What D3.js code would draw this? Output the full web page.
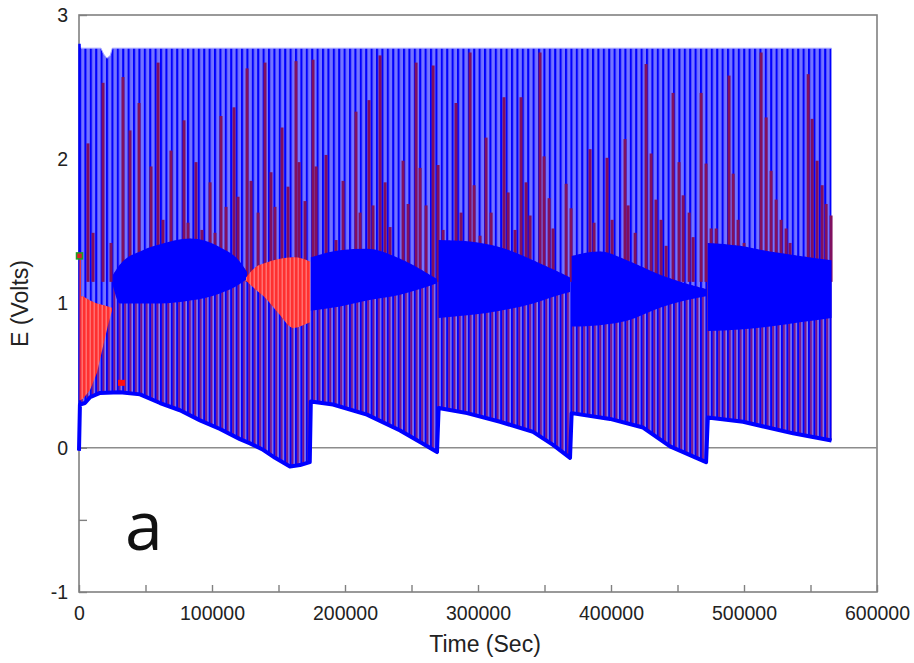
<!DOCTYPE html>
<html><head><meta charset="utf-8">
<script src="https://cdn.jsdelivr.net/npm/d3@7"></script>
<style>body{margin:0;background:#fff}svg{display:block}</style>
</head><body><svg id="c" width="914" height="663"></svg>
<script>
// ---------- DATA ----------
const xTickValues = [0,50000,100000,150000,200000,250000,300000,350000,400000,450000,500000,550000,600000];
const xLabelValues = [0,100000,200000,300000,400000,500000,600000];
const yTickValues = [-1,-0.5,0,1,2,3];
const yLabelValues = [-1,0,1,2,3];

// upper envelope of the blue trace [time s, volts]
const topEnvelope = [[0,2.80],[1500,2.77],[16500,2.77],[18500,2.73],[21000,2.70],[23500,2.72],[25000,2.77],[565800,2.77]];

// lower envelope of the blue trace (five discharge segments) [time s, volts]
const bottomEnvelope = [
  [0,-0.02],[700,0.30],[4500,0.31],[8300,0.35],[15800,0.38],[30800,0.385],[45900,0.37],[60900,0.31],
  [75900,0.26],[91000,0.19],[106000,0.13],[121000,0.06],[128600,0.03],[137600,-0.01],[147400,-0.07],
  [158600,-0.13],[166200,-0.12],[173500,-0.10],
  [174300,0.32],[191000,0.30],[216500,0.23],[241400,0.12],[256400,0.04],[269200,-0.03],
  [270400,0.275],[291800,0.24],[316600,0.18],[341400,0.11],[356400,0.02],[369200,-0.07],
  [370400,0.24],[399300,0.20],[424100,0.14],[444400,0.01],[471500,-0.10],
  [472800,0.21],[499300,0.18],[536900,0.10],[565800,0.05]
];

// dense mid bands [time s, upper V, lower V]
const redBand0 = [[0,1.30,0.33],[750,1.05,0.33],[3000,1.05,0.34],[8300,1.02,0.40],[13500,1.00,0.52],[18000,0.99,0.70],[21800,0.98,0.85],[24800,0.97,0.95]];
const blueBand1 = [[25600,1.20,1.12],[30800,1.27,1.00],[48000,1.37,1.00],[60900,1.41,1.00],[83500,1.45,1.02],[106000,1.39,1.07],[120000,1.30,1.13],[126300,1.22,1.17]];
const redBand1 = [[125600,1.18,1.16],[132400,1.25,1.10],[139900,1.28,1.04],[151100,1.31,0.92],[160900,1.32,0.83],[168400,1.31,0.85],[173800,1.29,0.87]];
const blueBand2 = [[174300,1.32,0.95],[196300,1.37,0.98],[216500,1.38,1.02],[241400,1.31,1.06],[256400,1.24,1.10],[269200,1.17,1.14]];
const blueBand3 = [[270400,1.44,0.90],[294000,1.43,0.92],[316600,1.39,0.95],[341400,1.30,1.00],[357900,1.23,1.05],[369200,1.18,1.08]];
const blueBand4 = [[370400,1.33,0.84],[391700,1.36,0.85],[412000,1.30,0.88],[436800,1.20,0.97],[455600,1.14,1.02],[471500,1.10,1.05]];
const blueBand5 = [[472800,1.42,0.81],[497000,1.40,0.82],[519600,1.36,0.84],[542100,1.33,0.87],[565800,1.30,0.90]];

// tops of the red-trace charge spikes
const redSpikeTimes = [4500,8300,15800,21800,30800,36100,42900,51900,57200,60900,66900,76700,79700,85700,90200,96300,100000,104500,108300,114300,117300,124100,127100,132400,137600,142100,145100,150400,154900,160900,163200,167700,173700,176000,183500,191000,196300,206000,209100,215800,218800,224100,227900,231600,241400,245200,251200,254200,258700,264000,267700,271500,281200,285000,291800,294800,299300,303800,307600,317300,320400,325600,330100,333900,336900,344400,347400,351200,354200,364000,367700,382000,385000,394800,398600,408300,410600,415900,424100,427900,431600,435400,439200,444400,448900,452000,456500,459500,465500,469200,473000,476800,486500,489600,493300,497800,510600,514400,518100,521900,525600,529400,532400,546000,549000,552700,556500,559500,563200];
const redSpikeTops = [2.11,1.49,2.53,1.42,2.57,2.20,2.39,1.95,2.67,1.58,2.06,2.27,1.56,1.98,1.51,1.84,1.49,2.30,1.67,2.36,1.74,2.63,1.85,1.63,2.67,1.91,1.67,2.22,1.81,2.68,1.98,1.71,2.69,1.95,2.03,1.44,1.85,2.33,1.63,2.41,1.68,2.72,1.84,1.53,1.99,1.69,2.67,1.94,1.68,2.65,1.96,1.51,2.39,1.63,2.74,1.82,1.47,2.15,1.63,2.43,1.77,1.51,2.43,1.84,1.61,2.74,2.02,1.73,1.52,1.83,1.66,2.07,1.56,2.01,1.58,2.14,1.68,1.49,2.66,2.04,1.72,1.58,1.40,2.46,1.98,1.75,1.63,1.46,2.46,1.97,1.52,1.52,2.58,1.90,1.58,1.42,2.74,2.29,1.92,1.72,1.58,1.52,1.42,2.59,2.28,1.99,1.82,1.69,1.61];

// single markers
const greenMarker = [0, 1.33];
const redMarker = [31600, 0.45];

// ---------- CHART ----------
const svg = d3.select("#c");
const x = d3.scaleLinear().domain([0,600000]).range([79,877]);
const y = d3.scaleLinear().domain([-1,3]).range([592,15]);

const BLUE = "#0000ff", LIGHT = "#7474ff", PURPLE = "#7a1080", SPIKE = "#80105f";

const defs = svg.append("defs");
const pu = defs.append("pattern").attr("id","upperPat").attr("patternUnits","userSpaceOnUse")
  .attr("x",79).attr("y",0).attr("width",5.4).attr("height",10);
pu.append("rect").attr("width",5.4).attr("height",10).attr("fill",LIGHT);
pu.append("rect").attr("width",2.1).attr("height",10).attr("fill",BLUE);
const pl = defs.append("pattern").attr("id","lowerPat").attr("patternUnits","userSpaceOnUse")
  .attr("x",79).attr("y",0).attr("width",5.4).attr("height",10);
pl.append("rect").attr("width",5.4).attr("height",10).attr("fill","#8080ff");
pl.append("rect").attr("width",2).attr("height",10).attr("fill",BLUE);
pl.append("rect").attr("x",2).attr("width",1.9).attr("height",10).attr("fill",PURPLE);
const pr = defs.append("pattern").attr("id","redPat").attr("patternUnits","userSpaceOnUse")
  .attr("x",79).attr("y",0).attr("width",4).attr("height",10);
pr.append("rect").attr("width",4).attr("height",10).attr("fill","#ff3030");
pr.append("rect").attr("x",2.5).attr("width",1.5).attr("height",10).attr("fill","#ff7070");

// frame
svg.append("rect").attr("x",x(0)).attr("y",y(3)).attr("width",x(600000)-x(0)).attr("height",y(-1)-y(3))
  .attr("fill","none").attr("stroke","#808080").attr("stroke-width",1.6);
// zero line
svg.append("line").attr("x1",x(0)).attr("x2",x(600000)).attr("y1",y(0)).attr("y2",y(0))
  .attr("stroke","#8c8c8c").attr("stroke-width",1.6);

// axes
const fmt = d => String(d);
const xAxis = d3.axisBottom(x).tickValues(xTickValues).tickSizeInner(-7).tickSizeOuter(0).tickPadding(14)
  .tickFormat(d => xLabelValues.includes(d) ? fmt(d) : "");
const gx = svg.append("g").attr("transform",`translate(0,${y(-1)})`).call(xAxis);
const yAxis = d3.axisLeft(y).tickValues(yTickValues).tickSizeInner(-8).tickSizeOuter(0).tickPadding(11)
  .tickFormat(d => yLabelValues.includes(d) ? fmt(d) : "");
const gy = svg.append("g").attr("transform",`translate(${x(0)},0)`).call(yAxis);
[gx,gy].forEach(g=>{
  g.select(".domain").remove();
  g.selectAll(".tick line").attr("stroke","#808080").attr("stroke-width",1.4);
  g.selectAll(".tick text").attr("fill","#222").style("font-family","'Liberation Sans', Arial, sans-serif").style("font-size","19.5px");
});

// data layers
const line = d3.line();
const P = d => [x(d[0]), y(d[1])];
const upperPoly = bottomEnvelope.map(P).concat(topEnvelope.slice().reverse().map(P));
svg.append("path").attr("d", line(upperPoly)+"Z").attr("fill","url(#upperPat)");
svg.append("path").attr("d", d3.line().x(d=>x(d[0])).y(d=>y(d[1]))(topEnvelope))
  .attr("fill","none").attr("stroke","#a8a8ff").attr("stroke-width",1);

const allBands = [redBand0, blueBand1, redBand1, blueBand2, blueBand3, blueBand4, blueBand5];
const bandUpper = allBands.flat().map(d => [x(d[0]), y(d[1])]);
const lowerPoly = bottomEnvelope.map(P).concat(bandUpper.slice().reverse());
svg.append("path").attr("d", line(lowerPoly)+"Z").attr("fill","url(#lowerPat)");

// red spikes
svg.append("g").selectAll("line").data(redSpikeTimes).join("line")
  .attr("x1", d=>x(d)+3).attr("x2", d=>x(d)+3)
  .attr("y1", (d,i)=>y(redSpikeTops[i])).attr("y2", y(1.15))
  .attr("stroke", SPIKE).attr("stroke-width", 3);

// mid bands
const area = d3.area().x(d=>x(d[0])).y0(d=>y(d[2])).y1(d=>y(d[1])).curve(d3.curveMonotoneX);
[blueBand1, blueBand2, blueBand3, blueBand4, blueBand5].forEach(b=>{
  svg.append("path").attr("d", area(b)).attr("fill", BLUE);
});
svg.append("path").attr("d", d3.area().x(d=>x(d[0])).y0(d=>y(d[2])).y1(d=>y(d[1]))(redBand0)).attr("fill", "url(#redPat)");
svg.append("path").attr("d", area(redBand1)).attr("fill", "url(#redPat)");

// lower envelope edge
svg.append("path").attr("d", d3.line().x(d=>x(d[0])).y(d=>y(d[1]))(bottomEnvelope))
  .attr("fill","none").attr("stroke",BLUE).attr("stroke-width",4).attr("stroke-linejoin","round");
svg.append("line").attr("x1",x(0)+0.5).attr("x2",x(0)+0.5).attr("y1",y(bottomEnvelope[0][1])).attr("y2",y(topEnvelope[0][1]))
  .attr("stroke",BLUE).attr("stroke-width",2.5);
svg.append("line").attr("x1",x(0)+1.2).attr("x2",x(0)+1.2).attr("y1",y(redBand0[0][2])).attr("y2",y(greenMarker[1]))
  .attr("stroke","#ff3030").attr("stroke-width",1.4);

// markers
svg.append("rect").attr("x",x(greenMarker[0])-2.5).attr("y",y(greenMarker[1])-3).attr("width",6).attr("height",6)
  .attr("fill","#e02020").attr("stroke","#20a020").attr("stroke-width",1.5);
svg.append("rect").attr("x",x(redMarker[0])-3).attr("y",y(redMarker[1])-3).attr("width",7).attr("height",6)
  .attr("fill","#ff1010");

// titles
svg.append("text").attr("x",485).attr("y",652).attr("text-anchor","middle")
  .style("font-family","'Liberation Sans', Arial, sans-serif").style("font-size","23px").attr("fill","#222").text("Time (Sec)");
svg.append("text").attr("transform",`translate(28,${(y(3)+y(-1))/2}) rotate(-90)`).attr("text-anchor","middle")
  .style("font-family","'Liberation Sans', Arial, sans-serif").style("font-size","23px").attr("fill","#222").text("E (Volts)");
svg.append("text").attr("x",125).attr("y",550)
  .style("font-family","'Open Sans', sans-serif").style("font-size","68px").attr("fill","#111").text("a");
</script></body></html>
